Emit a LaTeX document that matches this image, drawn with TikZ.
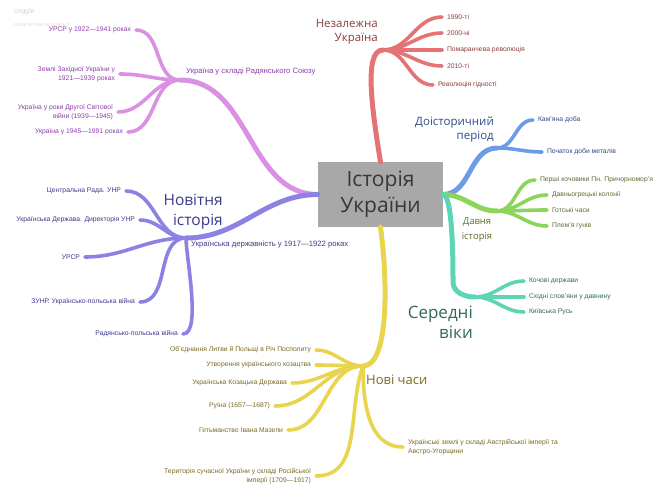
\documentclass[tikz,border=0pt]{standalone}
\usepackage{fontspec}
\setmainfont{Liberation Sans}
\newfontfamily\bigfont{Open Sans}
\usepackage{tikz}

\definecolor{pinkln}{RGB}{218,145,228}
\definecolor{pinktx}{RGB}{140,62,165}
\definecolor{violn}{RGB}{140,130,228}
\definecolor{viotx}{RGB}{60,58,140}
\definecolor{redln}{RGB}{229,115,115}
\definecolor{redtx}{RGB}{140,60,60}
\definecolor{blueln}{RGB}{110,155,230}
\definecolor{bluetx}{RGB}{45,75,130}
\definecolor{grnln}{RGB}{140,212,90}
\definecolor{grntx}{RGB}{90,110,45}
\definecolor{tealln}{RGB}{93,213,181}
\definecolor{tealtx}{RGB}{47,106,94}
\definecolor{yelln}{RGB}{232,212,77}
\definecolor{yeltx}{RGB}{120,105,35}
\definecolor{boxfill}{RGB}{168,168,168}
\definecolor{boxtx}{RGB}{55,55,55}

\tikzset{
	leafL/.style={anchor=east, inner sep=0pt, outer xsep=5pt, align=right, font=\fontsize{6.8}{8.8}\selectfont},
	leafR/.style={anchor=west, inner sep=0pt, outer xsep=5pt, align=left, font=\fontsize{6.8}{8.8}\selectfont},
	sublabel/.style={inner sep=0pt, font=\fontsize{7.7}{9}\selectfont},
	biglabel/.style 2 args={inner sep=0pt, font=\bigfont\fontsize{#1}{#2}\selectfont},
	branch/.style={line width=3.6pt, line cap=round},
	trunk/.style={line width=5pt, line cap=round}
}

\begin{document}
\begin{tikzpicture}[x=1pt, y=-1pt]
	\useasboundingbox (0,0) rectangle (656,484);
	% watermark
	\node[anchor=west, inner sep=0pt, text=gray!35, font=\itshape\fontsize{7}{8}\selectfont] (cg) at (14,12) {coggle};
	\node[anchor=west, inner sep=0pt, text=gray!30, font=\fontsize{5}{6}\selectfont] (mf) at (14,25) {made for free at coggle.it};

	% centre
	\node[fill=boxfill, text=boxtx, minimum width=125pt, minimum height=65pt, outer sep=0pt, align=center, font=\bigfont\fontsize{21}{26}\selectfont] (ist) at (380.5,194.5) {Історія\\України};

	% hubs
	\coordinate (pk) at (180,80);
	\coordinate (vi) at (186,238);
	\coordinate (rd) at (383,50);
	\coordinate (bl) at (497,148);
	\coordinate (gr) at (497,211);
	\coordinate (tl) at (475,297);
	\coordinate (tb) at (453,282);
	\coordinate (yl) at (363,366);

	% main branches
	\draw[trunk, pinkln] (ist.west) to[out=180,in=0] (pk);
	\draw[trunk, violn] (ist.west) to[out=180,in=0] (vi);
	\draw[trunk, redln] (ist.north) .. controls +(-8,-50) and +(-20,0) .. (rd);
	\draw[trunk, blueln] (ist.east) to[out=0,in=180] (bl);
	\draw[trunk, grnln] (ist.east) to[out=0,in=180] (gr);
	\draw[trunk, tealln] (ist.east) to[out=0,in=90,looseness=0.3] (tb) to[out=-90,in=180] (tl);
	\draw[trunk, yelln] (ist.south) .. controls +(8,60) and +(25,0) .. (yl);

	% Україна у складі Радянського Союзу
	\node[leafL, text=pinktx] (p1) at (136,30) {УРСР у 1922—1941 роках};
	\node[leafL, text=pinktx] (p2) at (120,74) {Землі Західної України у\\1921—1939 роках};
	\node[leafL, text=pinktx] (p3) at (118,112) {Україна у роки Другої Світової\\війни (1939—1945)};
	\node[leafL, text=pinktx] (p4) at (128,132) {Україна у 1945—1991 роках};
	\path[branch, pinkln] (pk) edge[out=180,in=0] (p1.east) edge[out=180,in=0] (p2.east)
		edge[out=180,in=0] (p3.east) edge[out=180,in=0] (p4.east);
	\node[sublabel, anchor=west, text=pinktx] (pkl) at (186,72) {Україна у складі Радянського Союзу};

	% Новітня історія
	\node[biglabel={15.5}{20}, anchor=east, align=right, text=viotx] (nov) at (223,212) {Новітня\\історія};
	\node[leafL, text=viotx] (v1) at (126,191) {Центральна Рада. УНР};
	\node[leafL, text=viotx] (v2) at (140,220) {Українська Держава. Директорія УНР};
	\node[leafL, text=viotx] (v3) at (85,257) {УРСР};
	\node[leafL, text=viotx] (v4) at (140,302) {ЗУНР. Українсько-польська війна};
	\node[leafL, text=viotx] (v5) at (183,334) {Радянсько-польська війна};
	\path[branch, violn] (vi) edge[out=180,in=0] (v1.east) edge[out=180,in=0] (v2.east)
		edge[out=180,in=0] (v3.east) edge[out=180,in=0] (v4.east) edge[out=-90,in=0,looseness=0.5] (v5.east);
	\node[sublabel, anchor=west, text=viotx] (vil) at (191,245) {Українська державність у 1917—1922 роках};

	% Незалежна Україна
	\node[biglabel={11.5}{13.5}, anchor=east, align=right, text=redtx] (nez) at (378,32) {Незалежна\\Україна};
	\node[leafR, text=redtx] (r1) at (442,17) {1990-ті};
	\node[leafR, text=redtx] (r2) at (442,33) {2000-ні};
	\node[leafR, text=redtx] (r3) at (442,50) {Помаранчева революція};
	\node[leafR, text=redtx] (r4) at (442,66) {2010-ті};
	\node[leafR, text=redtx] (r5) at (433,85) {Революція гідності};
	\path[branch, redln] (rd) edge[out=0,in=180] (r1.west) edge[out=0,in=180] (r2.west)
		edge[out=0,in=180] (r3.west) edge[out=0,in=180] (r4.west) edge[out=0,in=180] (r5.west);

	% Доісторичний період
	\node[biglabel={11.5}{14}, anchor=east, align=right, text=bluetx] (doi) at (494,130) {Доісторичний\\період};
	\node[leafR, text=bluetx] (b1) at (533,120) {Кам'яна доба};
	\node[leafR, text=bluetx] (b2) at (542,152) {Початок доби металів};
	\path[branch, blueln] (bl) edge[out=0,in=180] (b1.west) edge[out=0,in=180] (b2.west);

	% Давня історія
	\node[biglabel={9.5}{15}, align=center, text=grntx] (dav) at (477,230) {Давня\\історія};
	\node[leafR, text=grntx] (g1) at (535,180) {Перші кочовики Пн. Причорномор'я};
	\node[leafR, text=grntx] (g2) at (547,195) {Давньогрецькі колонії};
	\node[leafR, text=grntx] (g3) at (547,210) {Готські часи};
	\node[leafR, text=grntx] (g4) at (547,226) {Плем'я гунів};
	\path[branch, grnln] (gr) edge[out=0,in=180] (g1.west) edge[out=0,in=180] (g2.west)
		edge[out=0,in=180] (g3.west) edge[out=0,in=180] (g4.west);

	% Середні віки
	\node[biglabel={17}{20}, anchor=east, align=right, text=tealtx] (ser) at (473,322) {Середні\\віки};
	\node[leafR, text=tealtx] (t1) at (524,281) {Кочові держави};
	\node[leafR, text=tealtx] (t2) at (524,297) {Східні слов'яни у давнину};
	\node[leafR, text=tealtx] (t3) at (524,312) {Київська Русь};
	\path[branch, tealln] (tl) edge[out=0,in=180] (t1.west) edge[out=0,in=180] (t2.west)
		edge[out=0,in=180] (t3.west);

	% Нові часи
	\node[biglabel={13}{15}, anchor=west, text=yeltx] (nch) at (366,380) {Нові часи};
	\node[leafL, text=yeltx] (y1) at (316,350) {Об'єднання Литви й Польщі в Річ Посполиту};
	\node[leafL, text=yeltx] (y2) at (316,365) {Утворення українського козацтва};
	\node[leafL, text=yeltx] (y3) at (292,383) {Українська Козацька Держава};
	\node[leafL, text=yeltx] (y4) at (275,406) {Руїна (1657—1687)};
	\node[leafL, text=yeltx] (y5) at (288,430) {Гетьманство Івана Мазепи};
	\node[leafL, text=yeltx] (y6) at (316,476) {Територія сучасної України у складі Російської\\імперії (1709—1917)};
	\node[leafR, text=yeltx] (y7) at (403,447) {Українські землі у складі Австрійської імперії та\\Австро-Угорщини};
	\path[branch, yelln] (yl) edge[out=180,in=0] (y1.east) edge[out=180,in=0] (y2.east)
		edge[out=180,in=0] (y3.east) edge[out=180,in=0] (y4.east) edge[out=180,in=0] (y5.east)
		edge[out=250,in=0] (y6.east) edge[out=-90,in=180] (y7.west);
\end{tikzpicture}
\end{document}
